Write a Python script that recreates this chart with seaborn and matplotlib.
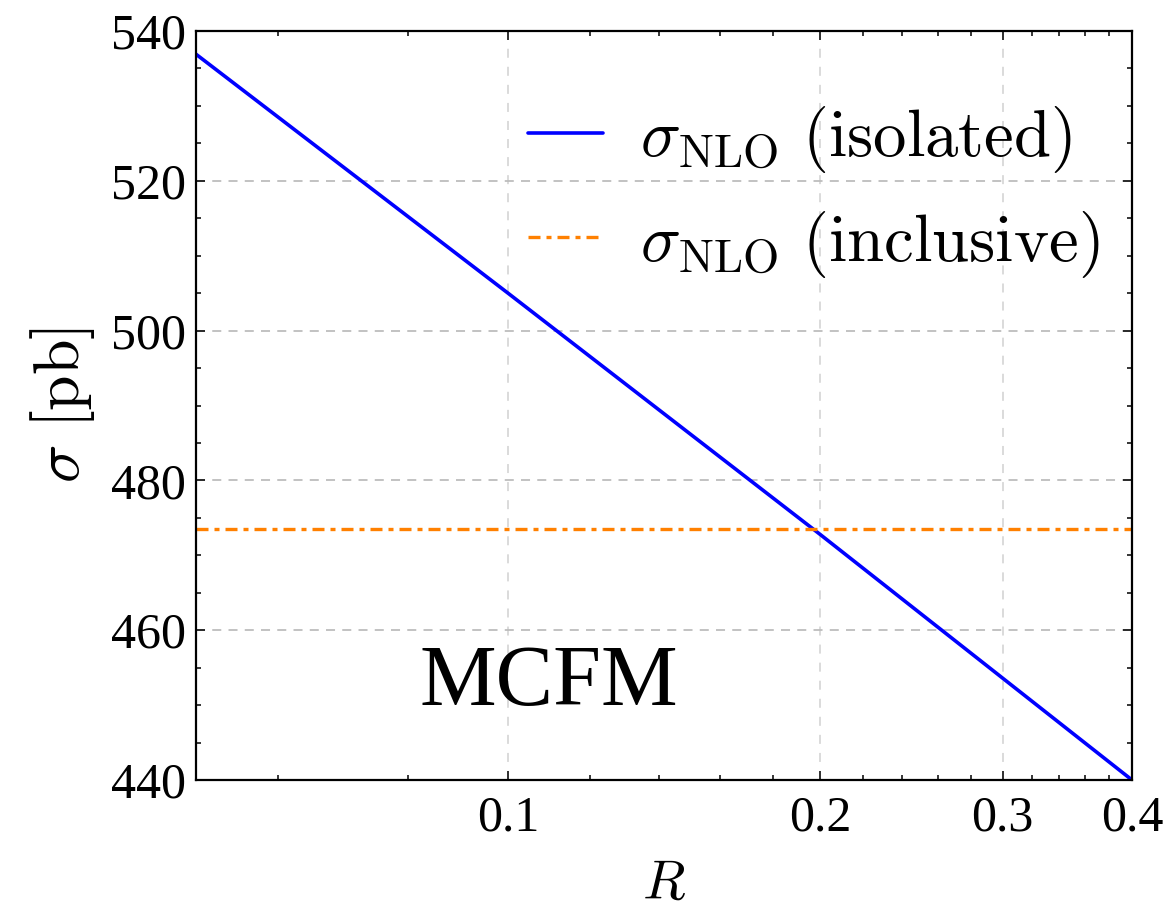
import numpy as np
import pandas as pd
import matplotlib
matplotlib.use("Agg")
import matplotlib.pyplot as plt
import seaborn as sns
from matplotlib.ticker import FixedLocator, NullFormatter, MultipleLocator

# ---- data ----
R_values = [0.05, 0.1, 0.2, 0.4]
sigma_isolated = [536.9, 505.0, 472.8, 440.0]
sigma_inclusive = 473.5
x_major_ticks = [0.1, 0.2, 0.3, 0.4]
x_tick_labels = ["0.1", "0.2", "0.3", "0.4"]
x_minor_ticks = [0.06, 0.08, 0.12, 0.14, 0.16, 0.18, 0.22, 0.24, 0.26, 0.28,
                 0.32, 0.34, 0.36, 0.38]
y_major_ticks = [440, 460, 480, 500, 520, 540]
label_isolated = r"$\sigma_{\mathrm{NLO}}\ (\mathrm{isolated})$"
label_inclusive = r"$\sigma_{\mathrm{NLO}}\ (\mathrm{inclusive})$"

sns.set_theme(style="ticks")
plt.rcParams["font.family"] = ["Liberation Serif", "DejaVu Serif"]
plt.rcParams["mathtext.fontset"] = "cm"
plt.rcParams["text.color"] = "black"
plt.rcParams["axes.labelcolor"] = "black"
plt.rcParams["xtick.color"] = "black"
plt.rcParams["ytick.color"] = "black"
plt.rcParams["legend.labelcolor"] = "black"

fig = plt.figure(figsize=(11.68, 9.15), dpi=100)
ax = fig.add_axes([196/1168, 1-780/915, (1132-196)/1168, (780-31)/915])

df = pd.DataFrame({"R": R_values, "sigma": sigma_isolated})
df_inc = pd.DataFrame({"R": [R_values[0], R_values[-1]],
                       "sigma": [sigma_inclusive, sigma_inclusive]})

sns.lineplot(data=df, x="R", y="sigma", ax=ax, color="#0000ff", lw=2.6,
             label=label_isolated)
sns.lineplot(data=df_inc, x="R", y="sigma", ax=ax, color="#ff8000", lw=2.4,
             label=label_inclusive)
ax.lines[1].set_dashes([3.6, 1.8, 1.5, 1.8])

ax.set_xscale("log")
ax.set_xlim(0.05, 0.4)
ax.set_ylim(440, 540)

ax.xaxis.set_major_locator(FixedLocator(x_major_ticks))
ax.set_xticklabels(x_tick_labels)
ax.xaxis.set_minor_locator(FixedLocator(x_minor_ticks))
ax.xaxis.set_minor_formatter(NullFormatter())
ax.yaxis.set_major_locator(FixedLocator(y_major_ticks))
ax.yaxis.set_minor_locator(MultipleLocator(5))

ax.tick_params(which="both", direction="in", top=True, right=True,
               color="black", width=1.1)
ax.tick_params(which="major", length=6.5, labelsize=36, labelcolor="black")
ax.tick_params(which="minor", length=3.8)
ax.tick_params(axis="x", which="major", pad=11)
ax.tick_params(axis="y", which="major", pad=7)

for sp in ax.spines.values():
    sp.set_linewidth(1.6)
    sp.set_color("black")

# grid
for x in x_major_ticks[:-1]:
    ax.axvline(x, color="#d8d8d8", lw=1.3, dashes=(5, 5), zorder=0)
for y in y_major_ticks[1:-1]:
    ax.axhline(y, color="#bdbdbd", lw=1.3, dashes=(5, 4), zorder=0)

ax.set_xlabel(r"$R$", fontsize=40, labelpad=12, color="black")
ax.set_ylabel(r"$\sigma\ [\mathrm{pb}]$", fontsize=46, labelpad=10, color="black")

ax.text(0.377, 0.10, "MCFM", transform=ax.transAxes, fontsize=62,
        ha="center", va="baseline", color="black")

leg = ax.legend(loc="upper left", bbox_to_anchor=(0.355, 0.902), frameon=False,
                fontsize=48, handlelength=1.12, handletextpad=0.55,
                labelspacing=0.5, borderpad=0, borderaxespad=0)
for t in leg.get_texts():
    t.set_color("black")

fig.savefig("out.png", dpi=100)
